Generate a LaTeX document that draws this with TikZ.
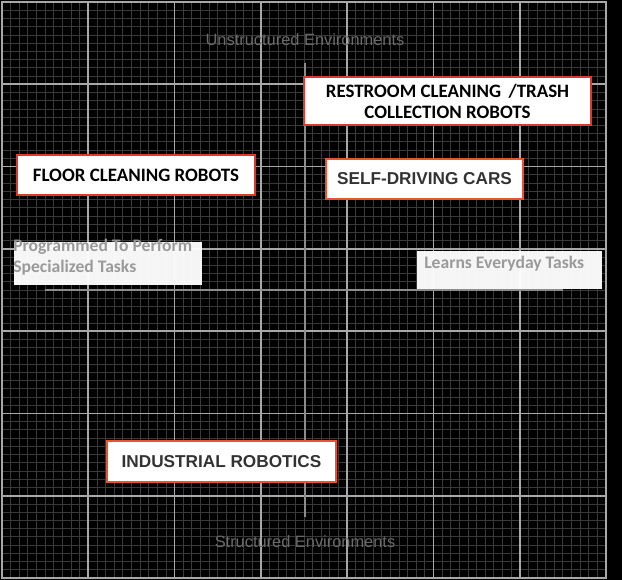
\documentclass[tikz,border=0pt]{standalone}
\usepackage{fontspec}
\setmainfont{Carlito}
\newfontfamily\robofont{Liberation Sans}
\definecolor{gridminor}{HTML}{3A3A3A}
\definecolor{gridmajor}{HTML}{A8A8A8}
\definecolor{axisgrey}{HTML}{8C8C8C}
\definecolor{capgrey}{HTML}{6A6A6A}
\definecolor{tagred}{HTML}{DC3A2E}
\definecolor{tagorange}{HTML}{E8542C}
\definecolor{taggrey}{HTML}{9A9A9A}
\tikzset{
  minorline/.style={draw=gridminor, line width=0.6pt},
  majorline/.style={draw=gridmajor, line width=1.2pt},
  axisline/.style={draw=axisgrey, line width=1.4pt},
  catbox/.style={draw=tagred, fill=white, line width=1.5pt, inner sep=0pt,
    align=center, font=\bfseries\fontsize{14.2}{15.75}\selectfont},
  robobox/.style={catbox, draw=tagorange, text=black!80,
    font=\robofont\bfseries\fontsize{12.9}{15}\selectfont},
  notebox/.style={fill=white, fill opacity=0.96, inner sep=0pt},
  notetext/.style={text=taggrey, inner sep=0pt, align=left,
    font=\bfseries\fontsize{13.2}{15.75}\selectfont},
  captext/.style={text=capgrey, inner sep=0pt, font=\robofont\fontsize{12.3}{14}\selectfont}
}
\begin{document}
\begin{tikzpicture}[x=0.75pt,y=-0.75pt]
  \useasboundingbox (0,0) rectangle (622,580);
  \fill[black] (0,0) rectangle (622,580);

  % grid
  \foreach \i in {1,...,69} {
    \draw[minorline] ({2+\i*8.62857},2) -- ({2+\i*8.62857},578);
    \draw[minorline] (2,{2+\i*8.22857}) -- (606,{2+\i*8.22857});
  }
  \foreach \i in {1,...,6} {
    \draw[majorline] ({2+\i*86.2857},2) -- ({2+\i*86.2857},578);
    \draw[majorline] (2,{2+\i*82.2857}) -- (606,{2+\i*82.2857});
  }
  \draw[majorline] (2,2) rectangle (606,578);

  % axes
  \coordinate (west) at (45,290);
  \coordinate (east) at (563,290);
  \coordinate (north) at (305,63);
  \coordinate (south) at (305,517);
  \draw[axisline] (west) -- (east);
  \draw[axisline] (north) -- (south);

  \node[captext] (unstruct) at (305,40) {Unstructured Environments};
  \node[captext] (struct) at (305,542) {Structured Environments};

  % quadrants
  \node[catbox, minimum width=178.5pt, minimum height=30pt] (floor) at (136,175) {FLOOR CLEANING ROBOTS};
  \node[catbox, minimum width=215.25pt, minimum height=36pt] (restroom) at (447.5,101)
    {RESTROOM CLEANING\ \,/TRASH\\COLLECTION ROBOTS};
  \node[robobox, minimum width=147.75pt, minimum height=30pt] (cars) at (424.5,179) {SELF-DRIVING CARS};
  \node[robobox, minimum width=171.75pt, minimum height=30.75pt] (industrial) at (221.5,461.5) {INDUSTRIAL ROBOTICS};

  % side notes
  \node[notebox, minimum width=141pt, minimum height=32.25pt] (progbox) at (108,263.5) {};
  \node[notetext, anchor=north west] (progtext) at (13,238.5) {Programmed To Perform\\Specialized Tasks};
  \node[notebox, minimum width=138.75pt, minimum height=28.5pt] (learnbox) at (509.5,270) {};
  \node[notetext, anchor=base west] (learntext) at (424,269) {Learns Everyday Tasks};
\end{tikzpicture}
\end{document}
